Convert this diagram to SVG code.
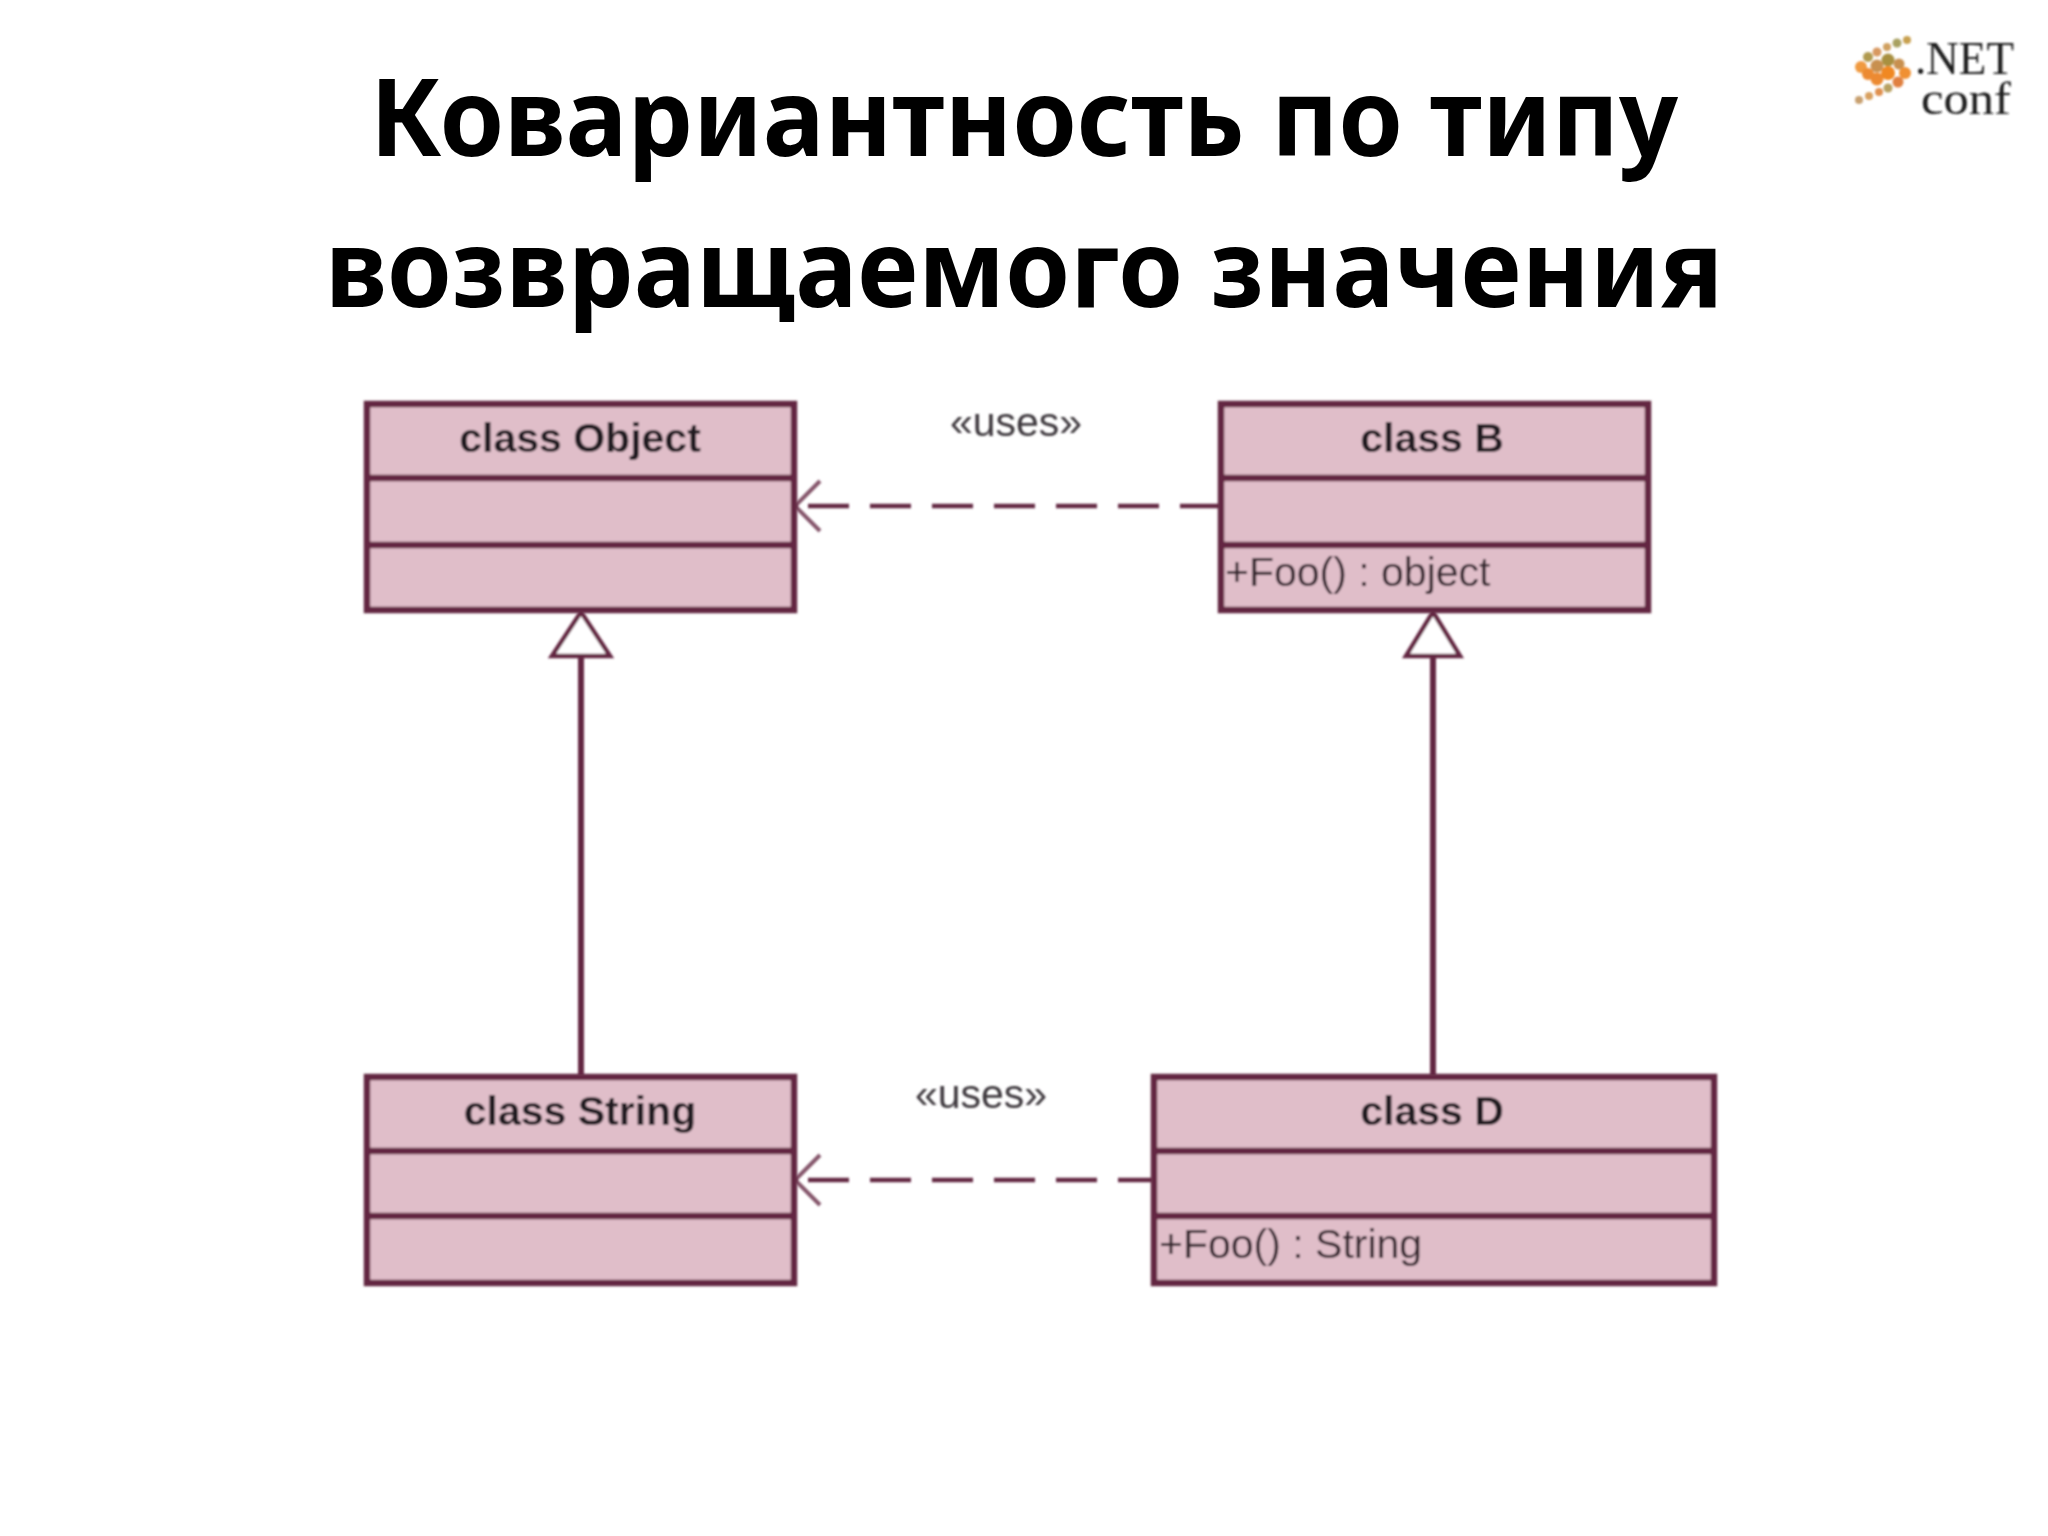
<svg xmlns="http://www.w3.org/2000/svg" width="2048" height="1536" viewBox="0 0 2048 1536">
<style>
.title{font-family:"Noto Sans","Open Sans",sans-serif;font-weight:700;font-size:108px;fill:#000;text-anchor:middle}
.box{fill:#e0bec9;stroke:#642842;stroke-width:6.5}
.div{stroke:#642842;stroke-width:6.5;fill:none}
.name{font-family:"Liberation Sans",Arial,sans-serif;font-weight:700;font-size:41px;fill:#241a20;text-anchor:middle}
.op{font-family:"Liberation Sans",Arial,sans-serif;font-size:41px;fill:#35262e}
.st{font-family:"Liberation Sans",Arial,sans-serif;font-size:41px;fill:#3e383c;text-anchor:middle}
.dash{stroke:#642842;stroke-width:4.5;fill:none;stroke-dasharray:41 21}
.line{stroke:#642842;stroke-width:6;fill:none}
.open{stroke:#84546a;stroke-width:4;fill:none}
.tri{stroke:#642842;stroke-width:4.5;fill:#fff}
.logo{font-family:"Liberation Serif",serif;fill:#1c1c1c}
</style>
<defs>
<filter id="soft" x="-5%" y="-5%" width="110%" height="110%"><feGaussianBlur stdDeviation="0.8"/></filter>
<filter id="softer" x="-10%" y="-10%" width="120%" height="120%"><feGaussianBlur stdDeviation="1.2"/></filter>
</defs>
<rect width="2048" height="1536" fill="#fff"/>
<g id="title">
<text class="title" x="1024" y="156" textLength="1308" lengthAdjust="spacingAndGlyphs">Ковариантность по типу</text>
<text class="title" x="1024" y="307" textLength="1398" lengthAdjust="spacingAndGlyphs">возвращаемого значения</text>
</g>
<g id="logo" filter="url(#softer)">
<circle cx="1907" cy="40" r="4" fill="#c8a050"/><circle cx="1897" cy="43" r="4.5" fill="#a8a060"/><circle cx="1887" cy="47" r="4" fill="#d0a060"/><circle cx="1877" cy="52" r="4.5" fill="#d89860"/><circle cx="1868" cy="57" r="5" fill="#b09a50"/>
<circle cx="1888" cy="60" r="6.5" fill="#a89040"/><circle cx="1877" cy="66" r="6.5" fill="#c89050"/><circle cx="1861" cy="67" r="6" fill="#f09a40"/><circle cx="1899" cy="64" r="5.5" fill="#c89050"/>
<circle cx="1868" cy="74" r="6" fill="#ec8a30"/><circle cx="1888" cy="73" r="7" fill="#f08820"/><circle cx="1905" cy="73" r="6" fill="#f09030"/><circle cx="1877" cy="79" r="6.5" fill="#ec8a30"/><circle cx="1898" cy="82" r="5.5" fill="#e08040"/>
<circle cx="1888" cy="88" r="4.5" fill="#b8a060"/><circle cx="1879" cy="92" r="4" fill="#e09050"/><circle cx="1869" cy="96" r="4" fill="#d8a060"/><circle cx="1859" cy="100" r="4" fill="#c8a070"/>
</g>
<g id="logo-text" filter="url(#soft)">
<text class="logo" x="1915" y="74" font-size="46" textLength="99" lengthAdjust="spacingAndGlyphs">.NET</text>
<text class="logo" x="1921" y="114" font-size="46" textLength="90" lengthAdjust="spacingAndGlyphs">conf</text>
</g>
<g id="connectors" filter="url(#soft)">
<path class="dash" d="M808 506H1220"/>
<path class="open" d="M820 481L795 506L820 531"/>
<path class="dash" d="M808 1180H1153"/>
<path class="open" d="M820 1155L795 1180L820 1205"/>
<path class="line" d="M581 1076V656"/>
<path class="tri" d="M581 612L552 656H610Z"/>
<path class="line" d="M1433 1076V656"/>
<path class="tri" d="M1433 612L1406 656H1460Z"/>
<text class="st" x="1016" y="436">«uses»</text>
<text class="st" x="981" y="1108">«uses»</text>
</g>
<g id="class-object" filter="url(#soft)">
<rect class="box" x="367" y="404" width="427" height="206"/>
<path class="div" d="M367 478H794M367 545H794"/>
<text class="name" x="580" y="452">class Object</text>
</g>
<g id="class-b" filter="url(#soft)">
<rect class="box" x="1221" y="404" width="427" height="206"/>
<path class="div" d="M1221 478H1648M1221 545H1648"/>
<text class="name" x="1432" y="452">class B</text>
<text class="op" x="1225" y="586">+Foo() : object</text>
</g>
<g id="class-string" filter="url(#soft)">
<rect class="box" x="367" y="1077" width="427" height="206"/>
<path class="div" d="M367 1151H794M367 1216H794"/>
<text class="name" x="580" y="1125">class String</text>
</g>
<g id="class-d" filter="url(#soft)">
<rect class="box" x="1154" y="1077" width="560" height="206"/>
<path class="div" d="M1154 1151H1714M1154 1216H1714"/>
<text class="name" x="1432" y="1125">class D</text>
<text class="op" x="1159" y="1258">+Foo() : String</text>
</g>
</svg>
